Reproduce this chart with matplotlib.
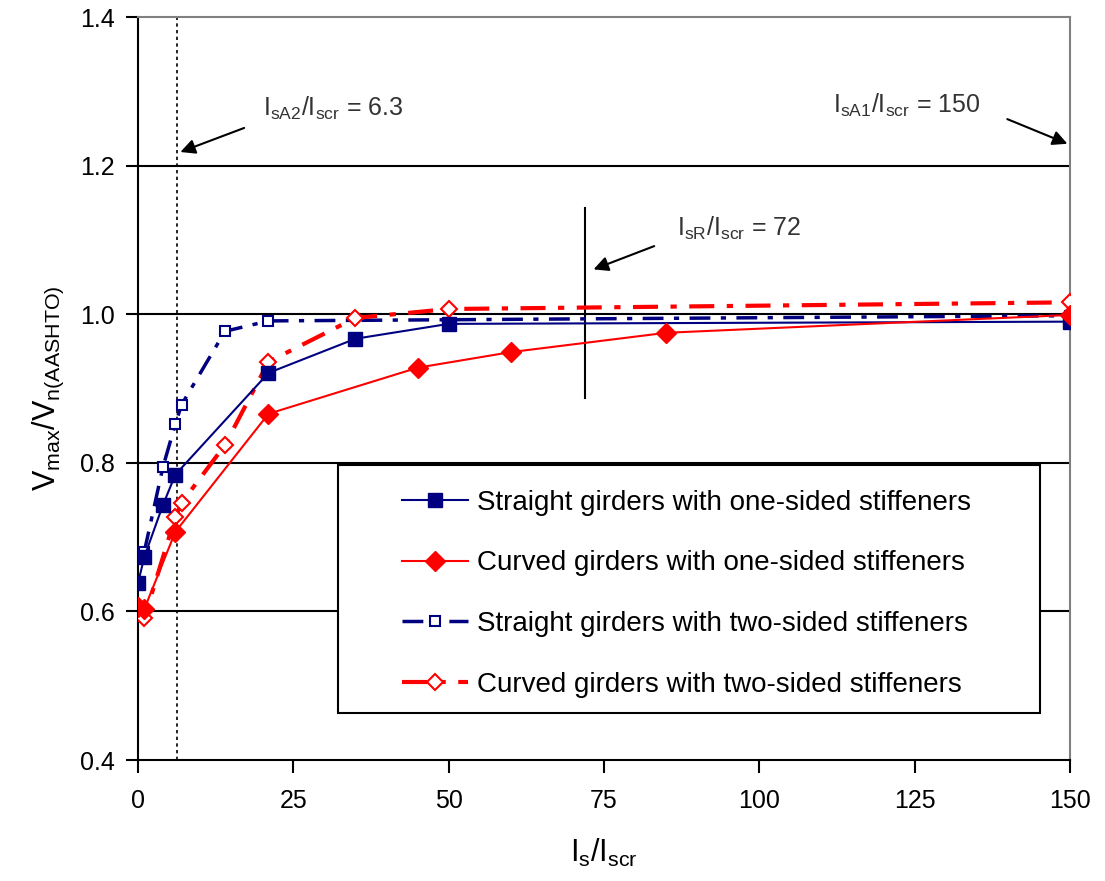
import matplotlib.pyplot as plt
from matplotlib.patches import Rectangle
from matplotlib.ticker import FormatStrFormatter

plt.rcParams['font.family'] = ['Liberation Sans', 'DejaVu Sans']
plt.rcParams['mathtext.default'] = 'regular'

# data
x_s1 = [0, 1, 4, 6, 21, 35, 50, 150]
y_s1 = [0.638, 0.673, 0.743, 0.784, 0.921, 0.967, 0.987, 0.990]

x_c1 = [0, 1, 6, 21, 45, 60, 85, 150]
y_c1 = [0.606, 0.603, 0.707, 0.866, 0.928, 0.949, 0.975, 0.999]

x_s2 = [1, 4, 6, 7, 14, 21, 150]
y_s2 = [0.680, 0.794, 0.852, 0.878, 0.977, 0.991, 0.998]

x_c2 = [0, 1, 6, 7, 14, 21, 35, 50, 150]
y_c2 = [0.605, 0.591, 0.727, 0.746, 0.824, 0.936, 0.995, 1.007, 1.016]

labels = ['Straight girders with one-sided stiffeners',
          'Curved girders with one-sided stiffeners',
          'Straight girders with two-sided stiffeners',
          'Curved girders with two-sided stiffeners']

navy = '#000080'
red = '#ff0000'

fig = plt.figure(figsize=(11.05, 8.81), dpi=100)
ax = fig.add_axes([0.1249, 0.1373, 0.8434, 0.8434])

for yv in [0.6, 0.8, 1.0, 1.2]:
    ax.axhline(yv, color='black', lw=1.5, zorder=1)

ax.plot(x_s1, y_s1, color=navy, lw=1.5, marker='s', ms=10, mfc=navy, mec=navy,
        label=labels[0], zorder=4)
ax.plot(x_c1, y_c1, color=red, lw=1.5, marker='D', ms=10, mfc=red, mec=red,
        label=labels[1], zorder=4)
ax.plot(x_s2, y_s2, color=navy, lw=2.5, ls=(0, (6, 3, 1.5, 3)), marker='s', ms=7,
        mfc='white', mec=navy, mew=1.5, label=labels[2], zorder=3)
ax.plot(x_c2, y_c2, color=red, lw=3, ls=(0, (6, 3, 1.5, 3)), marker='D', ms=8,
        mfc='white', mec=red, mew=1.5, label=labels[3], zorder=3)

# reference lines
ax.axvline(6.3, color='black', lw=1.2, ls=(0, (2, 2)), zorder=2)
ax.plot([72, 72], [0.887, 1.143], color='black', lw=1.5, zorder=2)

arrow = dict(arrowstyle='-|>', color='black', lw=1.5, mutation_scale=22)
txt = dict(fontsize=18, color='#333333', va='center', ha='left')
ax.annotate('', xy=(6.4, 1.217), xytext=(17.5, 1.252), arrowprops=arrow)
ax.text(20.1, 1.277, r'$I_{sA2}/I_{scr}$ = 6.3', **txt)
ax.annotate('', xy=(150, 1.228), xytext=(139.5, 1.264), arrowprops=arrow)
ax.text(111.8, 1.281, r'$I_{sA1}/I_{scr}$ = 150', **txt)
ax.annotate('', xy=(72.9, 1.059), xytext=(83.5, 1.093), arrowprops=arrow)
ax.text(86.8, 1.116, r'$I_{sR}/I_{scr}$ = 72', **txt)

ax.set_xlim(0, 150)
ax.set_ylim(0.4, 1.4)
ax.set_xticks([0, 25, 50, 75, 100, 125, 150])
ax.set_yticks([0.4, 0.6, 0.8, 1.0, 1.2, 1.4])
ax.yaxis.set_major_formatter(FormatStrFormatter('%.1f'))
ax.tick_params(axis='both', direction='out', length=9, width=1.5,
               labelsize=18, pad=8)
ax.tick_params(axis='x', pad=12)

for s in ['left', 'bottom']:
    ax.spines[s].set_color('black')
    ax.spines[s].set_linewidth(1.5)
for s in ['top', 'right']:
    ax.spines[s].set_color('#808080')
    ax.spines[s].set_linewidth(1.5)

ax.set_xlabel(r'$I_s/I_{scr}$', fontsize=22, labelpad=17)
ax.set_ylabel(r'$V_{max}/V_{n(AASHTO)}$', fontsize=22, labelpad=10)

# legend frame drawn separately so the entries can sit indented inside it
box = Rectangle((0.2146, 0.063), 0.753, 0.334, transform=ax.transAxes,
                facecolor='white', edgecolor='black', lw=1.5, zorder=5)
ax.add_patch(box)
leg = ax.legend(loc='upper left', bbox_to_anchor=(0.283, 0.364),
                fontsize=20, frameon=False, borderpad=0, labelspacing=1.25,
                handlelength=2.4, handletextpad=0.3, borderaxespad=0)
leg.set_zorder(6)

fig.savefig('out.png', dpi=100)
